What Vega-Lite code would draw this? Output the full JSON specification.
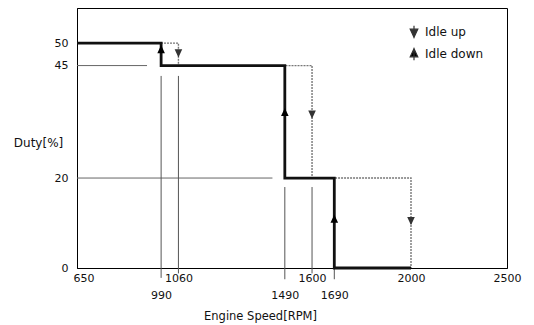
{
  "$schema": "https://vega.github.io/schema/vega-lite/v6.json",
  "width": 430,
  "height": 260,
  "autosize": {"type": "none"},
  "padding": {"left": 77, "top": 8, "right": 27, "bottom": 57},
  "config": {
    "font": "DejaVu Sans",
    "view": {"stroke": "#000", "strokeWidth": 1},
    "axis": {"labelFont": "DejaVu Sans", "titleFont": "DejaVu Sans", "labelColor": "#111", "titleColor": "#111", "titleFontWeight": "normal", "grid": false, "domainColor": "#000"}
  },
  "datasets": {
    "steps": [
      {"series": "Idle up", "rpm": 650, "duty": 50, "i": 1},
      {"series": "Idle up", "rpm": 1060, "duty": 50, "i": 2},
      {"series": "Idle up", "rpm": 1060, "duty": 45, "i": 3},
      {"series": "Idle up", "rpm": 1600, "duty": 45, "i": 4},
      {"series": "Idle up", "rpm": 1600, "duty": 20, "i": 5},
      {"series": "Idle up", "rpm": 2000, "duty": 20, "i": 6},
      {"series": "Idle up", "rpm": 2000, "duty": 0, "i": 7},
      {"series": "Idle down", "rpm": 650, "duty": 50, "i": 1},
      {"series": "Idle down", "rpm": 990, "duty": 50, "i": 2},
      {"series": "Idle down", "rpm": 990, "duty": 45, "i": 3},
      {"series": "Idle down", "rpm": 1490, "duty": 45, "i": 4},
      {"series": "Idle down", "rpm": 1490, "duty": 20, "i": 5},
      {"series": "Idle down", "rpm": 1690, "duty": 20, "i": 6},
      {"series": "Idle down", "rpm": 1690, "duty": 0, "i": 7},
      {"series": "Idle down", "rpm": 2000, "duty": 0, "i": 8}
    ],
    "arrows": [
      {"series": "Idle up", "rpm": 1060, "duty": 48},
      {"series": "Idle up", "rpm": 1600, "duty": 34.4},
      {"series": "Idle up", "rpm": 2000, "duty": 10.7},
      {"series": "Idle down", "rpm": 990, "duty": 48.4},
      {"series": "Idle down", "rpm": 1490, "duty": 34.4},
      {"series": "Idle down", "rpm": 1690, "duty": 10.7}
    ],
    "vrefs": [
      {"rpm": 990, "y1": -2.2, "y2": 42.7},
      {"rpm": 1060, "y1": -1.2, "y2": 42.7},
      {"rpm": 1490, "y1": -2.5, "y2": 18},
      {"rpm": 1600, "y1": -1.2, "y2": 18},
      {"rpm": 1690, "y1": -2.5, "y2": 0}
    ],
    "hrefs": [
      {"duty": 45, "x1": 650, "x2": 933},
      {"duty": 20, "x1": 650, "x2": 1440}
    ]
  },
  "layer": [
    {
      "data": {"name": "hrefs"},
      "mark": {"type": "rule", "color": "#666", "strokeWidth": 1},
      "encoding": {
        "x": {"field": "x1", "type": "quantitative", "scale": {"domain": [650, 2000, 2500], "range": [0, 334, 430], "nice": false, "zero": false},
          "axis": {"values": [650, 990, 1060, 1490, 1600, 1690, 2000, 2500], "title": "Engine Speed[RPM]", "titleFontSize": 11.5, "titleX": 183, "titleY": 48, "titleAlign": "center", "titleBaseline": "middle",
            "labelFontSize": 11, "labelLineHeight": 17, "labelPadding": 4, "tickSize": 0, "labelFlush": false, "labelOverlap": false,
            "labelAlign": {"condition": {"test": "datum.value == 650", "value": "left"}, "value": "center"},
            "labelOffset": {"condition": {"test": "datum.value == 650", "value": -4}, "value": 0},
            "labelExpr": "indexof([990,1490,1690], datum.value) >= 0 ? ['', datum.label] : datum.label",
            "format": "d"}},
        "x2": {"field": "x2"},
        "y": {"field": "duty", "type": "quantitative", "scale": {"domain": [0, 57.8], "nice": false},
          "axis": {"values": [0, 20, 45, 50], "title": "Duty[%]", "titleAngle": 0, "titleX": -39, "titleY": 134, "titleAlign": "center", "titleBaseline": "middle", "titleFontSize": 12,
            "labelFontSize": 11, "labelPadding": 9, "ticks": false}}
      }
    },
    {
      "data": {"name": "vrefs"},
      "mark": {"type": "rule", "color": "#555", "strokeWidth": 1},
      "encoding": {
        "x": {"field": "rpm", "type": "quantitative"},
        "y": {"field": "y1", "type": "quantitative"},
        "y2": {"field": "y2"}
      }
    },
    {
      "data": {"name": "steps"},
      "transform": [{"filter": "datum.series == 'Idle up'"}],
      "mark": {"type": "line", "color": "#777", "strokeWidth": 1.4, "strokeDash": [2, 1], "interpolate": "linear"},
      "encoding": {
        "x": {"field": "rpm", "type": "quantitative"},
        "y": {"field": "duty", "type": "quantitative"},
        "order": {"field": "i", "type": "quantitative"}
      }
    },
    {
      "data": {"name": "steps"},
      "transform": [{"filter": "datum.series == 'Idle down'"}],
      "mark": {"type": "line", "color": "#111", "strokeWidth": 2.8, "interpolate": "linear"},
      "encoding": {
        "x": {"field": "rpm", "type": "quantitative"},
        "y": {"field": "duty", "type": "quantitative"},
        "order": {"field": "i", "type": "quantitative"}
      }
    },
    {
      "data": {"name": "arrows"},
      "mark": {"type": "point", "filled": true, "opacity": 1, "size": 160},
      "encoding": {
        "x": {"field": "rpm", "type": "quantitative"},
        "y": {"field": "duty", "type": "quantitative"},
        "color": {"field": "series", "type": "nominal", "scale": {"domain": ["Idle up", "Idle down"], "range": ["#333", "#000"]},
          "legend": {"title": null, "orient": "none", "legendX": 330, "legendY": 17, "labelFontSize": 12, "labelColor": "#111", "rowPadding": 4, "symbolSize": 160, "labelOffset": 4,
            "symbolStrokeColor": "#333", "symbolStrokeWidth": 1.2}},
        "shape": {"field": "series", "type": "nominal", "scale": {"domain": ["Idle up", "Idle down"], "range": ["M0,-1L0,1M-0.6,-0.45L0.6,-0.45L0,0.85Z", "M0,-1L0,1M-0.6,0.45L0.6,0.45L0,-0.85Z"]}}
      }
    }
  ]
}
